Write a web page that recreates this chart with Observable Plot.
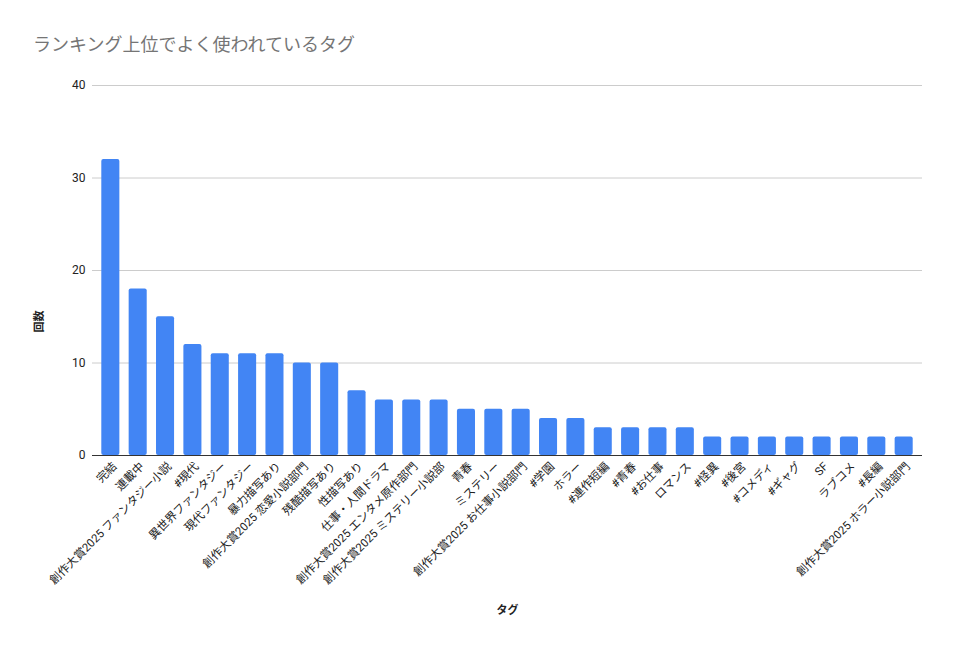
<!DOCTYPE html>
<html><head><meta charset="utf-8">
<script src="https://cdn.jsdelivr.net/npm/d3@7"></script>
<script src="https://cdn.jsdelivr.net/npm/@observablehq/plot@0.6"></script>
<style>
body{margin:0;background:#fff;font-family:Roboto,"Noto Sans CJK JP",sans-serif;}
#title{height:65px;box-sizing:border-box;padding:33px 0 0 33px;font-size:18px;line-height:24px;color:#757575;}
</style></head>
<body>
<div id="title">ランキング上位でよく使われているタグ</div>
<div id="chart"></div>
<script>
const tags = ["完結","連載中","創作大賞2025 ファンタジー小説","#現代","異世界ファンタジー","現代ファンタジー","暴力描写あり","創作大賞2025 恋愛小説部門","残酷描写あり","性描写あり","仕事・人間ドラマ","創作大賞2025 エンタメ原作部門","創作大賞2025 ミステリー小説部","青春","ミステリー","創作大賞2025 お仕事小説部門","#学園","ホラー","#連作短編","#青春","#お仕事","ロマンス","#怪異","#後宮","#コメディ","#ギャグ","SF","ラブコメ","#長編","創作大賞2025 ホラー小説部門"];
const counts = [32,18,15,12,11,11,11,10,10,7,6,6,6,5,5,5,4,4,3,3,3,3,2,2,2,2,2,2,2,2];
const yTicks = [0,10,20,30,40];
const data = tags.map((t,i)=>({tag:t,count:counts[i]}));

const chart = Plot.plot({
  width:954, height:588,
  marginTop:20, marginBottom:198, marginLeft:92, marginRight:32,
  style:{fontFamily:'Roboto,"Noto Sans CJK JP",sans-serif',fontSize:"12px",color:"#222",background:"#fff"},
  x:{domain:tags, padding:0.34, round:false, label:null},
  y:{domain:[0,40], label:null},
  marks:[
    Plot.gridY(yTicks,{stroke:"#cccccc",strokeOpacity:1}),
    Plot.barY(data,{x:"tag",y:"count",fill:"#4285f4",rx:2}),
    Plot.ruleY([0],{stroke:"#333333"}),
    Plot.axisY({ticks:yTicks,tickSize:0,tickPadding:7,label:null,fontSize:12}),
    Plot.axisX({tickRotate:-45,tickSize:0,tickPadding:9,dx:4,label:null,fontSize:11.5}),
    Plot.text(["回数"],{frameAnchor:"left",dx:-53,dy:62,rotate:-90,fontSize:11,fontWeight:"bold",fill:"#222"}),
    Plot.text(["タグ"],{frameAnchor:"bottom",dy:158,fontSize:11,fontWeight:"bold",fill:"#222"})
  ]
});
document.getElementById("chart").appendChild(chart);
</script>
</body></html>
